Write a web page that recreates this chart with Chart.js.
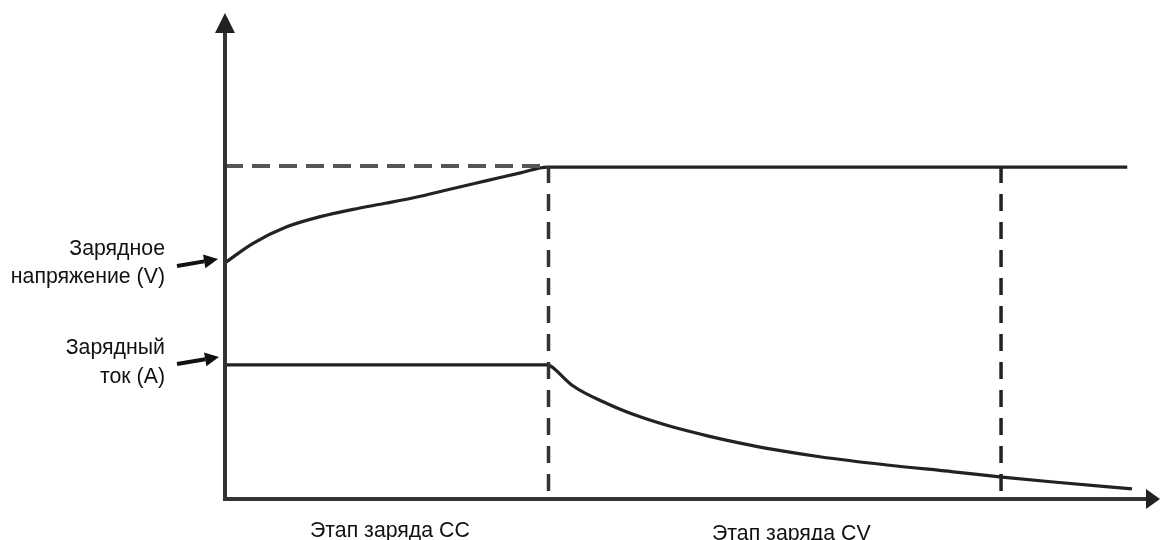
<!DOCTYPE html>
<html>
<head>
<meta charset="utf-8">
<script src="https://cdn.jsdelivr.net/npm/chart.js@4"></script>
<style>
  html, body { margin: 0; padding: 0; background: #fff; overflow: hidden; }
  #wrap { position: relative; width: 1162px; height: 540px; }
  canvas { position: absolute; left: 0; top: 0; }
  .lbl { position: absolute; font-family: "Liberation Sans", Arial, sans-serif; font-size: 21.3px; color: #111; white-space: nowrap; line-height: 28px; }
  .right { text-align: right; }
</style>
</head>
<body>
<div id="wrap">
  <canvas id="c" width="1162" height="540"></canvas>
  <div class="lbl right" style="right:997px; top:234px;">Зарядное<br>напряжение (V)</div>
  <div class="lbl right" style="right:997px; top:333px; line-height:29px;">Зарядный<br>ток (A)</div>
  <div class="lbl" style="left:310px; top:516px;">Этап заряда CC</div>
  <div class="lbl" style="left:712px; top:519px;">Этап заряда CV</div>
</div>
<script>
// Time axis (arbitrary units 0..100) and level axis (arbitrary units 0..100)
const voltageTime   = [0, 3.0, 6.6, 10.2, 13.7, 17.3, 20.9, 24.4, 28.0, 31.6, 34.5, 96.5];
const voltageValues = [48.6, 52.6, 56.0, 58.1, 59.6, 60.9, 62.3, 63.9, 65.5, 67.1, 68.3, 68.3];

const currentTime   = [0, 34.5, 34.8, 37.2, 40.9, 44.4, 47.9, 51.6, 55.1, 58.6, 63.6, 70.8, 77.9, 83.1, 88.6, 97.0];
const currentValues = [27.6, 27.6, 27.4, 23.3, 19.6, 16.9, 14.8, 13.0, 11.5, 10.2, 8.7, 7.0, 5.6, 4.5, 3.5, 2.1];

const limitVoltage = 68.5;       // dashed target voltage level
const ccEndTime = 34.6;          // end of CC stage
const cvMarkTime = 83.0;         // end marker in CV stage

const toPts = (xs, ys) => xs.map((x, i) => ({ x: x, y: ys[i] }));

const axesPlugin = {
  id: 'axesArrows',
  afterDatasetsDraw(chart) {
    const ctx = chart.ctx;
    const a = chart.chartArea;
    const x0 = a.left, y0 = a.bottom;
    ctx.save();
    ctx.strokeStyle = '#333';
    ctx.fillStyle = '#222';
    ctx.lineWidth = 4;
    ctx.lineCap = 'butt';
    // y axis
    ctx.beginPath();
    ctx.moveTo(x0, y0 + 2);
    ctx.lineTo(x0, a.top + 16);
    ctx.stroke();
    ctx.beginPath();
    ctx.moveTo(x0, a.top);
    ctx.lineTo(x0 - 10, a.top + 20);
    ctx.lineTo(x0 + 10, a.top + 20);
    ctx.closePath();
    ctx.fill();
    // x axis
    ctx.beginPath();
    ctx.moveTo(x0 - 2, y0);
    ctx.lineTo(a.right - 12, y0);
    ctx.stroke();
    ctx.beginPath();
    ctx.moveTo(a.right, y0);
    ctx.lineTo(a.right - 14, y0 - 10);
    ctx.lineTo(a.right - 14, y0 + 10);
    ctx.closePath();
    ctx.fill();
    // label pointer arrows
    const pointer = (xs, ys, xe, ye) => {
      const ang = Math.atan2(ye - ys, xe - xs);
      const hl = 14, hw = 7;
      const bx = xe - hl * Math.cos(ang), by = ye - hl * Math.sin(ang);
      ctx.lineWidth = 4;
      ctx.strokeStyle = '#111';
      ctx.fillStyle = '#111';
      ctx.beginPath();
      ctx.moveTo(xs, ys);
      ctx.lineTo(bx, by);
      ctx.stroke();
      ctx.beginPath();
      ctx.moveTo(xe, ye);
      ctx.lineTo(bx + hw * Math.sin(ang), by - hw * Math.cos(ang));
      ctx.lineTo(bx - hw * Math.sin(ang), by + hw * Math.cos(ang));
      ctx.closePath();
      ctx.fill();
    };
    pointer(177, 266, 218, 259);
    pointer(177, 364, 219, 357);
    ctx.restore();
  }
};

new Chart(document.getElementById('c'), {
  type: 'line',
  data: {
    datasets: [
      {
        label: 'limit',
        data: toPts([0, ccEndTime], [limitVoltage, limitVoltage]),
        borderColor: '#555',
        borderWidth: 4,
        borderDash: [18, 9],
        pointRadius: 0,
        tension: 0
      },
      {
        label: 'ccEnd',
        data: toPts([ccEndTime, ccEndTime], [limitVoltage, 0]),
        borderColor: '#333',
        borderWidth: 3.5,
        borderDash: [17, 11],
        pointRadius: 0,
        tension: 0
      },
      {
        label: 'cvMark',
        data: toPts([cvMarkTime, cvMarkTime], [limitVoltage, 0]),
        borderColor: '#222',
        borderWidth: 3.5,
        borderDash: [17, 11],
        pointRadius: 0,
        tension: 0
      },
      {
        label: 'voltage',
        data: toPts(voltageTime, voltageValues),
        borderColor: '#222',
        borderWidth: 3.2,
        pointRadius: 0,
        cubicInterpolationMode: 'monotone'
      },
      {
        label: 'current',
        data: toPts(currentTime, currentValues),
        borderColor: '#222',
        borderWidth: 3.2,
        pointRadius: 0,
        cubicInterpolationMode: 'monotone'
      }
    ]
  },
  options: {
    responsive: false,
    animation: false,
    devicePixelRatio: 1,
    layout: { padding: { left: 225, right: 2, top: 13, bottom: 41 } },
    plugins: { legend: { display: false }, tooltip: { enabled: false }, title: { display: false } },
    elements: { line: { borderCapStyle: 'butt', borderJoinStyle: 'round' } },
    scales: {
      x: { type: 'linear', min: 0, max: 100, display: false },
      y: { type: 'linear', min: 0, max: 100, display: false }
    },
    clip: false
  },
  plugins: [axesPlugin]
});
</script>
</body>
</html>
